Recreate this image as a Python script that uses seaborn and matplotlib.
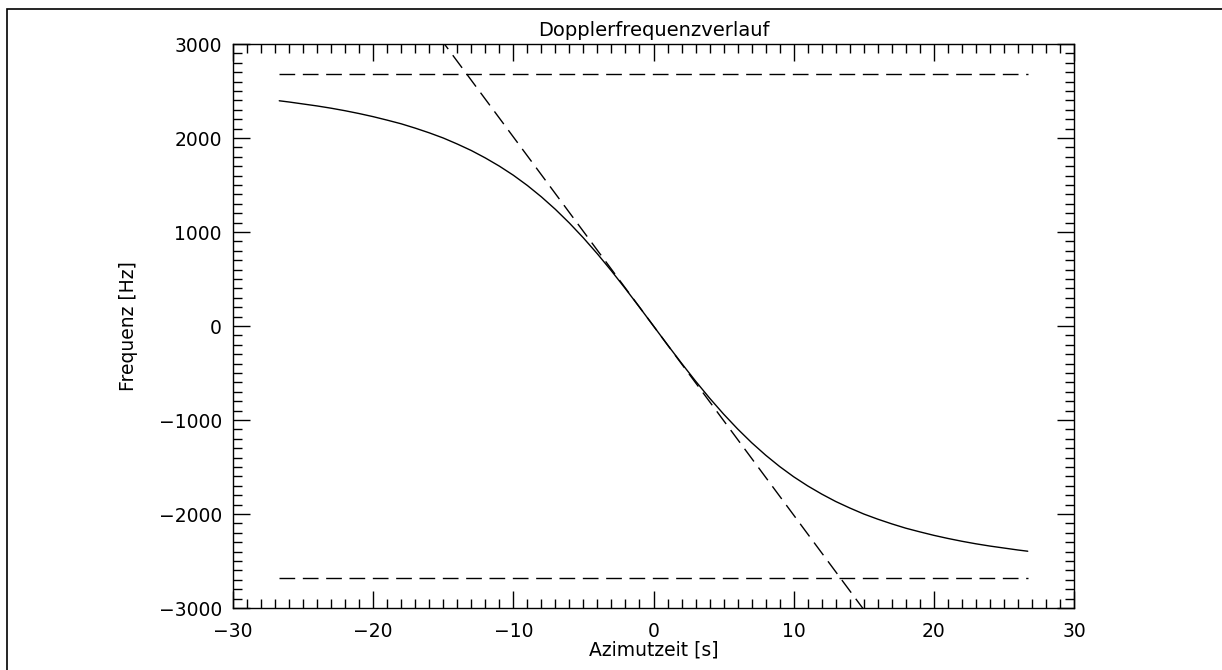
import matplotlib
matplotlib.use("Agg")
import matplotlib.pyplot as plt
import seaborn as sns
import numpy as np
import pandas as pd
from matplotlib.ticker import MultipleLocator
from matplotlib.patches import Rectangle

# Dopplerfrequenz ueber Azimutzeit
azimutzeit = [-26.7, -26, -25, -24, -23, -22, -21, -20, -19, -18, -17, -16, -15, -14,
              -13, -12, -11, -10, -9, -8, -7, -6, -5, -4, -3, -2, -1, 0,
              1, 2, 3, 4, 5, 6, 7, 8, 9, 10, 11, 12, 13, 14,
              15, 16, 17, 18, 19, 20, 21, 22, 23, 24, 25, 26, 26.7]
frequenz = [2396, 2383, 2362, 2341, 2317, 2290, 2260, 2227, 2190, 2151, 2105, 2055, 2000, 1936,
            1867, 1788, 1701, 1604, 1495, 1374, 1241, 1095, 937, 767, 586, 396, 200, 0,
            -200, -396, -586, -767, -937, -1095, -1241, -1374, -1495, -1604, -1701, -1788, -1867, -1936,
            -2000, -2055, -2105, -2151, -2190, -2227, -2260, -2290, -2317, -2341, -2362, -2383, -2396]

# Grenzen (gestrichelt) und lineare Naeherung
grenze_t = [-26.7, 26.7]
grenze_oben = [2680, 2680]
grenze_unten = [-2680, -2680]
linear_t = [-26.7, 26.7]
linear_f = [5370, -5370]

df = pd.DataFrame({"t": azimutzeit, "f": frequenz})

sns.set_style("ticks")
plt.rcParams['font.family'] = ['DejaVu Sans']
plt.rcParams['font.size'] = 13
plt.rcParams['text.color'] = 'black'
plt.rcParams['axes.labelcolor'] = 'black'
plt.rcParams['xtick.color'] = 'black'
plt.rcParams['ytick.color'] = 'black'

fig = plt.figure(figsize=(12.22, 6.70), dpi=100)
ax = fig.add_axes([233 / 1222, 1 - 608 / 670, 841 / 1222, 564 / 670])

dash = (0, (11.3, 5.5))
sns.lineplot(data=df, x="t", y="f", ax=ax, color="black", lw=1.0, sort=False, estimator=None)
sns.lineplot(x=grenze_t, y=grenze_oben, ax=ax, color="black", lw=1.0, linestyle=dash)
sns.lineplot(x=grenze_t, y=grenze_unten, ax=ax, color="black", lw=1.0, linestyle=dash)
sns.lineplot(x=linear_t, y=linear_f, ax=ax, color="black", lw=1.0, linestyle=dash)

ax.set_xlim(-30, 30)
ax.set_ylim(-3000, 3000)
ax.xaxis.set_major_locator(MultipleLocator(10))
ax.xaxis.set_minor_locator(MultipleLocator(1))
ax.yaxis.set_major_locator(MultipleLocator(1000))
ax.yaxis.set_minor_locator(MultipleLocator(100))
ax.tick_params(which="both", direction="in", top=True, right=True, color="black", width=1.0)
ax.tick_params(which="major", length=12)
ax.tick_params(which="minor", length=6.5)
ax.tick_params(axis="y", which="major", pad=8, labelsize=13.5, labelcolor="black")
ax.tick_params(axis="x", which="major", pad=10, labelsize=13.5, labelcolor="black")
for s in ax.spines.values():
    s.set_color("black")
    s.set_linewidth(1.0)

ax.set_title("Dopplerfrequenzverlauf", fontsize=14, pad=6, color="black")
ax.set_xlabel("Azimutzeit [s]", fontsize=13.5, color="black")
ax.set_ylabel("Frequenz [Hz]", fontsize=13.5, color="black")
ax.yaxis.set_label_coords(-0.113, 0.5)
ax.xaxis.set_label_coords(0.5, -0.058)

# Rahmen um die Grafik
fig.add_artist(Rectangle((7 / 1222, -0.2), 1.5, 1.2 - 9 / 670, transform=fig.transFigure,
                         fill=False, edgecolor="black", lw=1.2))

fig.savefig("out.png", dpi=100)
